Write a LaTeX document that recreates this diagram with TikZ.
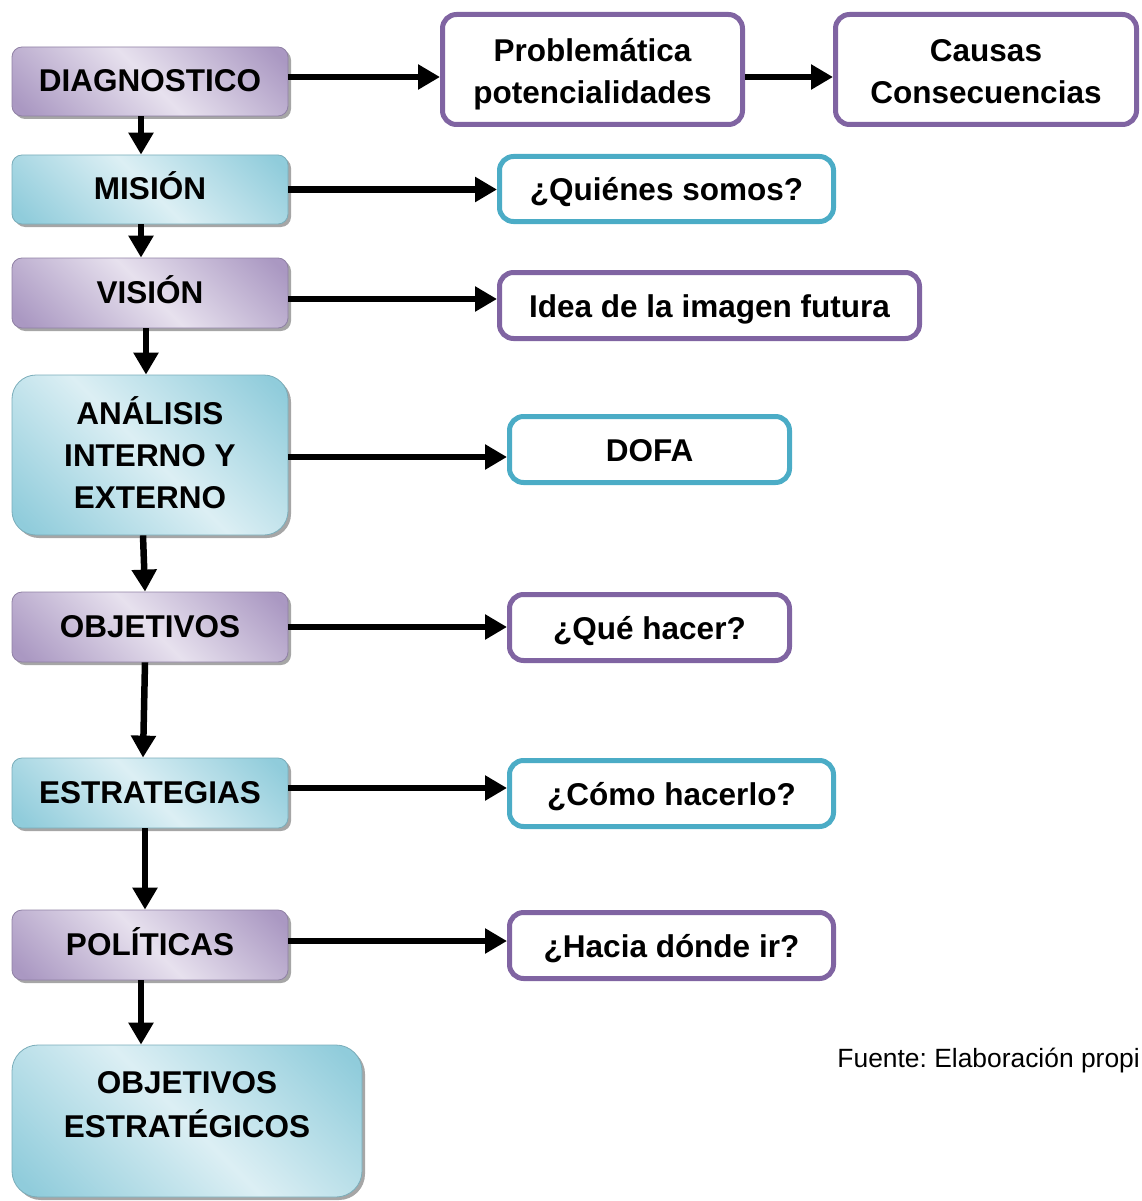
\documentclass[tikz,border=0pt]{standalone}
\usepackage{fontspec}
\setmainfont{Liberation Sans}
\frenchspacing
\usetikzlibrary{arrows.meta,shadows}
\definecolor{pdark}{RGB}{170,152,194}
\definecolor{plight}{RGB}{231,225,238}
\definecolor{bdark}{RGB}{144,204,219}
\definecolor{blight}{RGB}{220,239,244}
\definecolor{pline}{RGB}{128,100,162}
\definecolor{bline}{RGB}{75,172,198}
\pgfdeclarehorizontalshading{purpsh}{100bp}{color(0bp)=(pdark); color(18bp)=(pdark); color(50bp)=(plight); color(82bp)=(pdark); color(100bp)=(pdark)}
\pgfdeclarehorizontalshading{bluesh}{100bp}{color(0bp)=(bdark); color(18bp)=(bdark); color(50bp)=(blight); color(82bp)=(bdark); color(100bp)=(bdark)}
\newcommand\mlines[1]{\vbox{\halign{\hfil##\hfil\cr#1\crcr}}}
\tikzset{
  lbox/.style={rounded corners=10pt, inner sep=0pt,
    font=\bfseries\fontsize{31.5}{42}\selectfont, text height=24pt, text depth=4pt,
    drop shadow={shadow xshift=3pt, shadow yshift=-3pt, opacity=.35, fill=black}},
  lpurp/.style={lbox, shading=purpsh, shading angle=45, draw=pdark!85!black, line width=0.8pt},
  lblue/.style={lbox, shading=bluesh, shading angle=45, draw=bdark!85!black, line width=0.8pt},
  rbox/.style={rounded corners=14pt, fill=white, line width=5pt, inner sep=0pt,
    font=\bfseries\fontsize{31.5}{42}\selectfont, text height=27pt, text depth=3.4pt},
  rpurp/.style={rbox, draw=pline},
  rblue/.style={rbox, draw=bline},
  arr/.style={line width=6.5pt, -{Triangle[length=22pt,width=24pt]}}
}
\begin{document}
\begin{tikzpicture}[x=1pt,y=-1pt]
\useasboundingbox (0,0) rectangle (1141,1201);
\clip (0,0) rectangle (1141,1201);
% left column
\node[lpurp, minimum width=276pt, minimum height=69pt] (diag) at (150,81.5) {DIAGNOSTICO};
\node[lblue, minimum width=276pt, minimum height=69pt] (mision) at (150,189.5) {MISIÓN};
\node[lpurp, minimum width=276pt, minimum height=70pt] (vision) at (150,293) {VISIÓN};
\node[lblue, minimum width=276pt, minimum height=160pt, rounded corners=24pt, text height=110pt, text depth=3.4pt] (analisis) at (150,455) {\mlines{ANÁLISIS\cr INTERNO Y\cr EXTERNO}};
\node[lpurp, minimum width=276pt, minimum height=70pt] (objetivos) at (150,627) {OBJETIVOS};
\node[lblue, minimum width=276pt, minimum height=70pt] (estrategias) at (150,793) {ESTRATEGIAS};
\node[lpurp, minimum width=276pt, minimum height=70pt] (politicas) at (150,945) {POLÍTICAS};
\node[lblue, minimum width=350pt, minimum height=152pt, rounded corners=26pt, font=\bfseries\fontsize{31.5}{44}\selectfont, text height=60pt, text depth=27.4pt] (objest) at (187,1121) {\mlines{OBJETIVOS\cr ESTRATÉGICOS}};
% right column
\node[rpurp, minimum width=300pt, minimum height=110pt, text height=70pt, text depth=2.4pt] (prob) at (592.5,69.5) {\mlines{Problemática\cr potencialidades}};
\node[rpurp, minimum width=301pt, minimum height=110pt, text height=70pt, text depth=2.4pt] (causas) at (986,69.5) {\mlines{Causas\cr Consecuencias}};
\node[rblue, minimum width=334pt, minimum height=65pt] (quienes) at (666.5,189) {¿Quiénes somos?};
\node[rpurp, minimum width=420pt, minimum height=66pt] (idea) at (709.5,305.5) {Idea de la imagen futura};
\node[rblue, minimum width=280pt, minimum height=66pt] (dofa) at (649.5,449.5) {DOFA};
\node[rpurp, minimum width=280pt, minimum height=66pt] (que) at (649.5,627.5) {¿Qué hacer?};
\node[rblue, minimum width=324pt, minimum height=66pt] (como) at (671.5,793.5) {¿Cómo hacerlo?};
\node[rpurp, minimum width=324pt, minimum height=66pt] (hacia) at (671.5,945.5) {¿Hacia dónde ir?};
% footnote
\node[anchor=base east, inner sep=0pt, font=\fontsize{26.4}{30}\selectfont] (fuente) at (1140,1067) {Fuente: Elaboración propi};
% horizontal arrows
\coordinate (h1) at ([yshift=4.5pt]diag.east);
\draw[arr] (h1) -- (h1 -| prob.west);
\coordinate (h2) at ([yshift=-7.5pt]prob.east);
\draw[arr] (h2) -- (h2 -| causas.west);
\draw[arr] (mision.east) -- (mision.east -| quienes.west);
\coordinate (h3) at ([yshift=-6pt]vision.east);
\draw[arr] (h3) -- (h3 -| idea.west);
\coordinate (h4) at ([yshift=-2pt]analisis.east);
\draw[arr] (h4) -- (h4 -| dofa.west);
\draw[arr] (objetivos.east) -- (objetivos.east -| que.west);
\coordinate (h5) at ([yshift=5pt]estrategias.east);
\draw[arr] (h5) -- (h5 -| como.west);
\coordinate (h6) at ([yshift=4pt]politicas.east);
\draw[arr] (h6) -- (h6 -| hacia.west);
% vertical arrows
\coordinate (v1) at ([xshift=-9pt]diag.south);
\draw[arr] (v1) -- (v1 |- mision.north);
\coordinate (v2) at ([xshift=-9pt]mision.south);
\draw[arr] (v2) -- (v2 |- vision.north);
\coordinate (v3) at ([xshift=-4pt]vision.south);
\draw[arr] (v3) -- (v3 |- analisis.north);
\draw[arr] ([xshift=-7pt]analisis.south) -- ([xshift=-5pt]objetivos.north);
\draw[arr] ([xshift=-5pt]objetivos.south) -- ([xshift=-7pt]estrategias.north);
\coordinate (v4) at ([xshift=-5pt]estrategias.south);
\draw[arr] (v4) -- (v4 |- politicas.north);
\coordinate (v5) at ([xshift=-9pt]politicas.south);
\draw[arr] (v5) -- (v5 |- objest.north);
\end{tikzpicture}
\end{document}
